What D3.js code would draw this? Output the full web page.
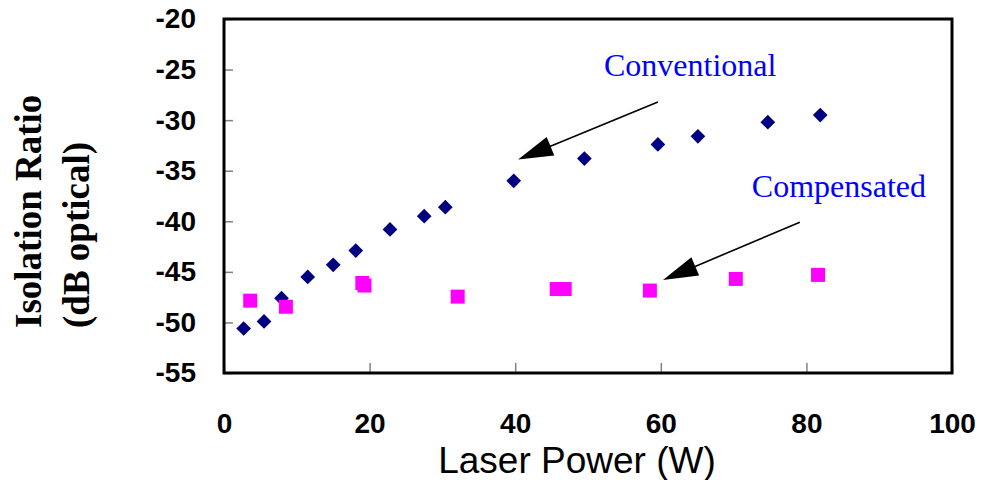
<!DOCTYPE html>
<html>
<head>
<meta charset="utf-8">
<script src="https://cdn.jsdelivr.net/npm/d3@7"></script>
<style>
  body { margin: 0; background: #fff; }
  svg { display: block; }
</style>
</head>
<body>
<div id="graph"></div>
<script>
// donnees
const convPower = [2.7, 5.5, 7.9, 11.5, 15.0, 18.1, 22.8, 27.5, 30.4, 39.8, 49.5, 59.6, 65.1, 74.7, 81.9];
const convIsolation = [-50.6, -49.9, -47.6, -45.5, -44.3, -42.9, -40.8, -39.5, -38.6, -36.0, -33.8, -32.4, -31.6, -30.2, -29.5];

const compPower = [3.6, 8.5, 19.0, 19.3, 32.1, 45.7, 46.8, 58.5, 70.3, 81.6];
const compIsolation = [-47.85, -48.45, -46.1, -46.35, -47.45, -46.7, -46.7, -46.85, -45.7, -45.3];

const xTicks = [0, 20, 40, 60, 80, 100];
const yTicks = [-20, -25, -30, -35, -40, -45, -50, -55];

// annotations (en coordonnees de donnees)
const labels = [
  { text: "Conventional", x: 52.2, y: -25.6, from: [59.6, -28.2], to: [40.4, -33.9] },
  { text: "Compensated", x: 72.5, y: -37.6, from: [79.1, -40.1], to: [60.3, -45.8] }
];

const conv = convPower.map((p, i) => ({ p: p, v: convIsolation[i] }));
const comp = compPower.map((p, i) => ({ p: p, v: compIsolation[i] }));

const W = 983, H = 480;
const margin = { top: 19, right: 31, bottom: 107, left: 224 };
const width = W - margin.left - margin.right,
      height = H - margin.top - margin.bottom;

const x = d3.scaleLinear().domain([0, 100]).range([0, width]);
const y = d3.scaleLinear().domain([-55, -20]).range([height, 0]);

const svg = d3.select("#graph").append("svg")
  .attr("width", W)
  .attr("height", H);

const g = svg.append("g")
  .attr("transform", "translate(" + margin.left + "," + margin.top + ")");

// axes
const yAxis = g.append("g")
  .call(d3.axisLeft(y).tickValues(yTicks).tickSize(-9).tickPadding(28).tickFormat(d3.format("d")));
const xAxis = g.append("g")
  .attr("transform", "translate(0," + height + ")")
  .call(d3.axisBottom(x).tickValues(xTicks).tickSize(-10).tickPadding(40));

[yAxis, xAxis].forEach(a => {
  a.select(".domain").remove();
  a.selectAll(".tick line").attr("stroke", "#808080").attr("stroke-width", 1.5);
  a.selectAll(".tick text")
    .attr("fill", "#000")
    .style("font-family", "'Liberation Sans', Arial, sans-serif")
    .style("font-weight", "bold")
    .style("font-size", "28px");
});
yAxis.selectAll(".tick text").text(d => d3.format("d")(d).replace("\u2212", "-"));

// cadre
g.append("rect")
  .attr("width", width)
  .attr("height", height)
  .attr("fill", "none")
  .attr("stroke", "#000")
  .attr("stroke-width", 3);

// points
g.selectAll(".conv")
  .data(conv)
  .enter()
  .append("rect")
  .attr("class", "conv")
  .attr("x", -5.2).attr("y", -5.2)
  .attr("width", 10.4).attr("height", 10.4)
  .attr("transform", d => "translate(" + x(d.p) + "," + y(d.v) + ") rotate(45)")
  .attr("fill", "#000080");

g.selectAll(".comp")
  .data(comp)
  .enter()
  .append("rect")
  .attr("class", "comp")
  .attr("x", d => x(d.p) - 7)
  .attr("y", d => y(d.v) - 7)
  .attr("width", 14).attr("height", 14)
  .attr("fill", "#ff00ff");

// fleches et etiquettes
labels.forEach(l => {
  const x1 = x(l.from[0]), y1 = y(l.from[1]);
  const x2 = x(l.to[0]), y2 = y(l.to[1]);
  const len = Math.hypot(x2 - x1, y2 - y1);
  const ux = (x2 - x1) / len, uy = (y2 - y1) / len;
  const hl = 35, hw = 10;
  const bx = x2 - ux * hl, by = y2 - uy * hl;
  g.append("line")
    .attr("x1", x1).attr("y1", y1)
    .attr("x2", bx + ux * 2).attr("y2", by + uy * 2)
    .attr("stroke", "#000").attr("stroke-width", 1.6);
  g.append("polygon")
    .attr("points", [[x2, y2], [bx - uy * hw, by + ux * hw], [bx + uy * hw, by - ux * hw]].map(p => p.join(",")).join(" "))
    .attr("fill", "#000");
  g.append("text")
    .text(l.text)
    .attr("x", x(l.x))
    .attr("y", y(l.y))
    .attr("fill", "#0000ff")
    .style("font-family", "'Liberation Serif', 'Times New Roman', serif")
    .style("font-size", "32px");
});

// titres
svg.append("text")
  .text("Laser Power (W)")
  .attr("x", 577)
  .attr("y", 473)
  .attr("text-anchor", "middle")
  .style("font-family", "'Liberation Sans', Arial, sans-serif")
  .style("font-size", "37px");

const yt = svg.append("g")
  .attr("transform", "translate(0,328) rotate(-90)")
  .style("font-family", "'Liberation Serif', 'Times New Roman', serif")
  .style("font-weight", "bold")
  .style("font-size", "37px");
yt.append("text").text("Isolation Ratio").attr("x", 0).attr("y", 41);
yt.append("text").text("(dB optical)").attr("x", 0).attr("y", 89);
</script>
</body>
</html>
